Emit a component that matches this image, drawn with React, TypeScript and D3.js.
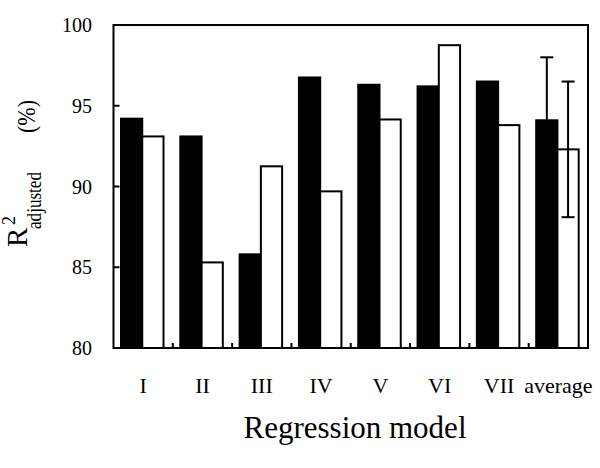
import React from "react";
import * as d3 from "d3";

const categories = ["I", "II", "III", "IV", "V", "VI", "VII", "average"];
const seriesA = [94.2, 93.1, 85.8, 96.75, 96.3, 96.2, 96.5, 94.1];
const seriesB = [93.1, 85.3, 91.25, 89.7, 94.15, 98.75, 93.8, 92.3];
const errA = [0, 0, 0, 0, 0, 0, 0, 3.9];
const errB = [0, 0, 0, 0, 0, 0, 0, 4.2];
const yTicks = [80, 85, 90, 95, 100];

const W = 600;
const H = 468;
const left = 113.5;
const right = 588;
const top = 25;
const bottom = 348;
const font = "'Liberation Serif', 'Times New Roman', serif";

export default function App() {
  const x = d3.scaleBand<string>().domain(categories).range([left, right]).padding(0);
  const inner = d3.scaleBand<string>().domain(["A", "B"]).range([7.5, 50]).padding(0);
  const y = d3.scaleLinear().domain([80, 100]).range([bottom, top]);
  const bw = inner.bandwidth();
  const cap = 6.5;

  return (
    <svg width={W} height={H} style={{ position: "absolute", left: 0, top: 0, background: "#fff" }}>
      <rect x={0} y={0} width={W} height={H} fill="#fff" />
      {categories.map((c, i) => {
        const x0 = x(c)!;
        const xa = x0 + inner("A")!;
        const xb = x0 + inner("B")!;
        return (
          <g key={c}>
            <rect x={xa} y={y(seriesA[i])} width={bw} height={bottom - y(seriesA[i])} fill="#000" stroke="#000" strokeWidth={2} />
            <rect x={xb} y={y(seriesB[i])} width={bw} height={bottom - y(seriesB[i])} fill="#fff" stroke="#000" strokeWidth={2} />
            {errA[i] > 0 && (
              <g stroke="#000" strokeWidth={2}>
                <line x1={xa + bw / 2} x2={xa + bw / 2} y1={y(seriesA[i] + errA[i])} y2={y(seriesA[i] - errA[i])} />
                <line x1={xa + bw / 2 - cap} x2={xa + bw / 2 + cap} y1={y(seriesA[i] + errA[i])} y2={y(seriesA[i] + errA[i])} />
                <line x1={xa + bw / 2 - cap} x2={xa + bw / 2 + cap} y1={y(seriesA[i] - errA[i])} y2={y(seriesA[i] - errA[i])} />
              </g>
            )}
            {errB[i] > 0 && (
              <g stroke="#000" strokeWidth={2}>
                <line x1={xb + bw / 2} x2={xb + bw / 2} y1={y(seriesB[i] + errB[i])} y2={y(seriesB[i] - errB[i])} />
                <line x1={xb + bw / 2 - cap} x2={xb + bw / 2 + cap} y1={y(seriesB[i] + errB[i])} y2={y(seriesB[i] + errB[i])} />
                <line x1={xb + bw / 2 - cap} x2={xb + bw / 2 + cap} y1={y(seriesB[i] - errB[i])} y2={y(seriesB[i] - errB[i])} />
              </g>
            )}
            <text x={x0 + x.bandwidth() / 2} y={393} textAnchor="middle" fontFamily={font} fontSize={22} fill="#000">
              {c}
            </text>
            {i > 0 && <line x1={x0} x2={x0} y1={bottom} y2={bottom - 5} stroke="#000" strokeWidth={2} />}
          </g>
        );
      })}
      {/* frame */}
      <rect x={left} y={top} width={right - left} height={bottom - top} fill="none" stroke="#000" strokeWidth={2} />
      {yTicks.map((t) => (
        <g key={t}>
          {t > 80 && t < 100 && <line x1={left} x2={left + 6} y1={y(t)} y2={y(t)} stroke="#000" strokeWidth={2} />}
          <text x={92} y={y(t)} dy="0.35em" textAnchor="end" fontFamily={font} fontSize={20} fill="#000">
            {t}
          </text>
        </g>
      ))}
      <text x={355} y={438} textAnchor="middle" fontFamily={font} fontSize={31} fill="#000">
        Regression model
      </text>
      <g transform="rotate(-90)" fontFamily={font} fill="#000">
        <text x={-247} y={27} fontSize={29}>R</text>
        <text x={-225} y={15} fontSize={18}>2</text>
        <text x={-229} y={41} fontSize={21} textLength={57} lengthAdjust="spacingAndGlyphs">adjusted</text>
        <text x={-133} y={35} fontSize={25} textLength={33} lengthAdjust="spacingAndGlyphs">(%)</text>
      </g>
    </svg>
  );
}
